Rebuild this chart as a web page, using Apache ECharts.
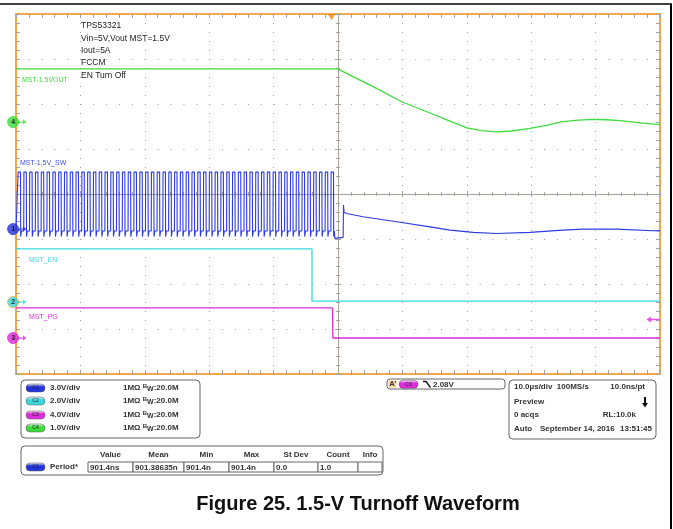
<!DOCTYPE html>
<html>
<head>
<meta charset="utf-8">
<script src="https://cdn.jsdelivr.net/npm/echarts@6/dist/echarts.min.js"></script>
<style>
  html, body { margin: 0; padding: 0; background: #fff; }
  #chart { width: 673px; height: 529px; }
</style>
</head>
<body>
<div id="chart"></div>
<script>
// time in µs, trigger near 0, 10 µs/div ; volts per channel
const swRiseTimes = [
  -49.7, -48.8, -47.9, -47.0, -46.1, -45.2, -44.3, -43.4, -42.5, -41.6,
  -40.7, -39.8, -38.9, -38.0, -37.1, -36.2, -35.3, -34.4, -33.5, -32.6,
  -31.7, -30.8, -29.9, -29.0, -28.1, -27.2, -26.3, -25.4, -24.5, -23.6,
  -22.7, -21.8, -20.9, -20.0, -19.1, -18.2, -17.3, -16.4, -15.5, -14.6,
  -13.7, -12.8, -11.9, -11.0, -10.1, -9.2, -8.3, -7.4, -6.5, -5.6,
  -4.7, -3.8, -2.9, -2.0, -1.1
]
const swLevels = [-0.13, 3.8, -0.5]   // low, high, undershoot
const swAfterTime = [-0.5, 0.8, 0.85, 0.95, 1.35, 3.9, 9.1, 14.3, 17.4, 21.0, 24.6, 29.8, 34.9, 38.0, 43.3, 48.9, 50]
const swAfterVolt = [-0.62, -0.55, 1.6, 1.1, 1.04, 0.82, 0.49, 0.15, -0.07, -0.22, -0.29, -0.22, -0.07, 0, 0, -0.11, -0.12]

const voutTime = [-50, 0, 2, 5, 9.9, 14.3, 17, 20, 22.3, 24.7, 27, 29.8, 32.5, 34.9, 37.3, 39.6, 41.7, 43.8, 47, 50]
const voutVolt = [1.18, 1.18, 1.03, 0.82, 0.45, 0.20, 0.04, -0.13, -0.19, -0.22, -0.20, -0.14, -0.07, 0.01, 0.04, 0.06, 0.05, 0.03, -0.02, -0.06]

const enTime = [-50, -4.04, -4.04, 50]
const enVolt = [2.36, 2.36, 0.04, 0.04]

const pgTime = [-50, -0.85, -0.8, 50]
const pgVolt = [2.67, 2.67, 0, 0]

const trigTime = -1.0
const trigArrowVolt = 1.65

const measHeader = ['Value', 'Mean', 'Min', 'Max', 'St Dev', 'Count', 'Info']
const measValues = ['901.4ns', '901.38635n', '901.4n', '901.4n', '0.0', '1.0', '']

// channel setup: V/div and marker position in divisions from centre
const ch = {
  C1: { scale: 3, pos: -0.78, color: '#2434dc', name: 'MST-1.5V_SW' },
  C2: { scale: 2, pos: -2.4, color: '#3ad8dc', name: 'MST_EN' },
  C3: { scale: 4, pos: -3.2, color: '#dc2cdc', name: 'MST_PG' },
  C4: { scale: 1, pos: 1.6, color: '#3cdc3c', name: 'MST-1.5VOUT' }
}
const toDiv = (c, v) => ch[c].pos + v / ch[c].scale
const pairs = (c, ts, vs) => ts.map((t, i) => [t, toDiv(c, vs[i])])

const swData = [[-50, toDiv('C1', swLevels[0])]]
swRiseTimes.forEach(r => {
  swData.push(
    [r, toDiv('C1', swLevels[0])], [r + 0.03, toDiv('C1', swLevels[1])],
    [r + 0.4, toDiv('C1', swLevels[1])], [r + 0.43, toDiv('C1', swLevels[2])],
    [r + 0.55, toDiv('C1', swLevels[0])]
  )
})
swData.push(...pairs('C1', swAfterTime, swAfterVolt))

const tickColor = '#a8a298'
const dotColor = '#9c9c9c'
const FONT = '"Liberation Sans", Arial, sans-serif'

function edgeAxis(position, isX, split) {
  return {
    type: 'value', position,
    min: isX ? -50 : -4, max: isX ? 50 : 4, interval: isX ? 10 : 1,
    axisLine: { show: false, onZero: false },
    axisTick: { show: true, inside: true, length: 4, lineStyle: { color: tickColor } },
    minorTick: { show: true, splitNumber: 5, length: 4, lineStyle: { color: tickColor } },
    axisLabel: { show: false },
    splitLine: split
      ? { show: true, lineStyle: { color: dotColor, width: 1, type: isX ? [1, 8] : [1, 11.88] } }
      : { show: false },
    minorSplitLine: { show: false }
  }
}
function centerAxis(position, isX) {
  return {
    type: 'value', position,
    min: isX ? -50 : -4, max: isX ? 50 : 4, interval: isX ? 10 : 1,
    axisLine: { show: true, onZero: true, onZeroAxisIndex: 0, lineStyle: { color: tickColor, width: 1 } },
    axisTick: { show: true, inside: true, length: 3, lineStyle: { color: tickColor } },
    minorTick: { show: true, splitNumber: 5, length: 2, lineStyle: { color: tickColor } },
    axisLabel: { show: false },
    splitLine: { show: false }
  }
}

const trace = (data, color, z, w) => ({
  type: 'line', data, showSymbol: false, z,
  lineStyle: { color, width: w || 1.3 }, emphasis: { disabled: true }, silent: true
})

const markerSeries = Object.keys(ch).map(k => ({
  type: 'scatter', clip: false, silent: true, z: 20,
  data: [[-50.45, ch[k].pos]],
  symbol: 'circle', symbolSize: 11,
  itemStyle: { color: ch[k].color, borderColor: k === 'C2' ? '#e8b040' : ch[k].color, borderWidth: 1 },
  label: { show: true, position: 'inside', formatter: k.slice(1), color: '#000', fontSize: 7, fontWeight: 'bold', fontFamily: FONT }
}))
const arrowSeries = Object.keys(ch).map(k => ({
  type: 'scatter', clip: false, silent: true, z: 20,
  data: [[-49.05, ch[k].pos]],
  symbol: 'path://M0,3 L6,3 L6,0 L10,4 L6,8 L6,5 L0,5 Z', symbolSize: [9, 5],
  itemStyle: { color: ch[k].color }
}))

const option = {
  animation: false,
  grid: { left: 16, top: 14, width: 644, height: 360, show: true, borderColor: '#f2a748', borderWidth: 2, backgroundColor: 'transparent' },
  xAxis: [edgeAxis('bottom', true, true), edgeAxis('top', true, false), centerAxis('bottom', true), centerAxis('top', true)],
  yAxis: [edgeAxis('left', false, true), edgeAxis('right', false, false), centerAxis('left', false), centerAxis('right', false)],
  series: [
    trace(pairs('C4', voutTime, voutVolt), ch.C4.color, 5),
    trace(swData, '#2c3ce0', 4, 1.1),
    trace(pairs('C2', enTime, enVolt), ch.C2.color, 5),
    trace(pairs('C3', pgTime, pgVolt), ch.C3.color, 5),
    ...markerSeries,
    ...arrowSeries,
    {
      type: 'scatter', clip: false, silent: true, z: 20,
      data: [[trigTime, 4]], symbol: 'triangle', symbolRotate: 180, symbolSize: [8, 6], symbolOffset: [0, 3],
      itemStyle: { color: '#f08a1c' }
    },
    {
      type: 'scatter', clip: false, silent: true, z: 20,
      data: [[48.9, toDiv('C3', trigArrowVolt)]],
      symbol: 'path://M0,4 L5,0 L5,3 L14,3 L14,5 L5,5 L5,8 Z', symbolSize: [13, 6],
      itemStyle: { color: ch.C3.color }
    }
  ],
  graphic: []
}

// ---- texts and panels ----
const G = option.graphic
const txt = (x, y, s, o) => ({
  type: 'text', x, y, z: 100, silent: true,
  style: Object.assign({ text: s, font: 'bold 8px ' + FONT, fill: '#333', align: 'left', verticalAlign: 'middle' }, o || {})
})
const box = (x, y, w, h, r) => ({
  type: 'rect', z: 99, silent: true, shape: { x, y, width: w, height: h, r },
  style: { fill: '#fff', stroke: '#666', lineWidth: 1 }
})
const pill = (x, y, c) => ({
  type: 'group', z: 100, silent: true,
  children: [
    { type: 'rect', z: 100, shape: { x, y: y - 4, width: 19, height: 8, r: 4 },
      style: { fill: new echarts.graphic.LinearGradient(0, 0, 0, 1, [{ offset: 0, color: '#fff' }, { offset: 0.35, color: ch[c].color }, { offset: 1, color: ch[c].color }]), stroke: '#555', lineWidth: 0.5 } },
    { type: 'text', z: 101, x: x + 9.5, y, style: { text: c, font: '5px ' + FONT, fill: '#222', align: 'center', verticalAlign: 'middle' } }
  ]
})

// outer frame
G.push({ type: 'line', z: 100, silent: true, shape: { x1: 0, y1: 4, x2: 672, y2: 4 }, style: { stroke: '#000', lineWidth: 1.5 } })
G.push({ type: 'line', z: 100, silent: true, shape: { x1: 671, y1: 4, x2: 671, y2: 529 }, style: { stroke: '#000', lineWidth: 2 } })

// annotations inside the screen
const notes = ['TPS53321', 'Vin=5V,Vout MST=1.5V', 'Iout=5A', 'FCCM']
notes.forEach((s, i) => G.push(txt(81, 26 + i * 12.2, s, { font: '8.5px ' + FONT, fill: '#222' })))
G.push(txt(81, 76, 'EN Turn Off', { font: '8.5px ' + FONT, fill: '#222' }))
G.push(txt(22, 80, ch.C4.name, { font: '7px ' + FONT, fill: ch.C4.color }))
G.push(txt(20, 163, ch.C1.name, { font: '7px ' + FONT, fill: '#4050e0' }))
G.push(txt(29, 260, ch.C2.name, { font: '7px ' + FONT, fill: ch.C2.color }))
G.push(txt(29, 317, ch.C3.name, { font: '7px ' + FONT, fill: ch.C3.color }))

// channel panel
G.push(box(21, 380, 179, 58, 4))
;['C1', 'C2', 'C3', 'C4'].forEach((c, i) => {
  const y = [388, 401, 415, 428][i]
  G.push(pill(26, y, c))
  G.push(txt(50, y, ch[c].scale.toFixed(1) + 'V/div'))
  G.push(txt(123, y, '1MΩ {b|B}{w|W}:20.0M', {
    rich: { b: { font: 'bold 6px ' + FONT, fill: '#333', verticalAlign: 'top', padding: [0, 0, 3, 0] }, w: { font: 'bold 7px ' + FONT, fill: '#333', padding: [3, 0, 0, 0] } }
  }))
})

// measurement panel
G.push(box(21, 446, 362, 29, 4))
const cellEdges = [88, 133, 184, 229, 274, 318, 358, 382]
measHeader.forEach((h, i) => G.push(txt((cellEdges[i] + cellEdges[i + 1]) / 2, 455, h, { align: 'center' })))
G.push(pill(26, 467, 'C1'))
G.push(txt(50, 467, 'Period*'))
measValues.forEach((v, i) => {
  G.push({ type: 'rect', z: 100, silent: true, shape: { x: cellEdges[i], y: 462, width: cellEdges[i + 1] - cellEdges[i], height: 10 }, style: { fill: '#fff', stroke: '#666', lineWidth: 1 } })
  G.push(txt(cellEdges[i] + 2, 467.5, v, { z: 101 }))
})

// trigger panel
G.push(box(387, 379, 118, 10, 3))
G.push({ type: 'rect', z: 100, silent: true, shape: { x: 388.5, y: 380.5, width: 8, height: 7 }, style: { fill: '#f7cf98' } })
G.push(txt(389.5, 384.3, "A'", { font: 'bold 7px ' + FONT }))
G.push(pill(399, 384.3, 'C3'))
G.push({ type: 'polyline', z: 100, silent: true, shape: { points: [[423, 381.5], [426, 381.5], [430.5, 387.5]] }, style: { stroke: '#111', lineWidth: 1.3, fill: null } })
G.push(txt(433, 384.3, '2.08V'))

// timebase panel
G.push(box(509, 380, 147, 59, 4))
G.push(txt(514, 387, '10.0µs/div  100MS/s'))
G.push(txt(645, 387, '10.0ns/pt', { align: 'right' }))
G.push(txt(514, 402, 'Preview'))
G.push({ type: 'polygon', z: 100, silent: true, shape: { points: [[644, 397], [646, 397], [646, 403], [648, 403], [645, 407.5], [642, 403], [644, 403]] }, style: { fill: '#111' } })
G.push(txt(514, 414.5, '0 acqs'))
G.push(txt(636, 414.5, 'RL:10.0k', { align: 'right' }))
G.push(txt(514, 429, 'Auto'))
G.push(txt(540, 429, 'September 14, 2016'))
G.push(txt(652, 429, '13:51:45', { align: 'right' }))

// caption
G.push(txt(358, 504, 'Figure 25. 1.5-V Turnoff Waveform', { font: 'bold 20px ' + FONT, fill: '#111', align: 'center' }))

const chart = echarts.init(document.getElementById('chart'), null, { renderer: 'canvas' })
chart.setOption(option)
</script>
</body>
</html>
